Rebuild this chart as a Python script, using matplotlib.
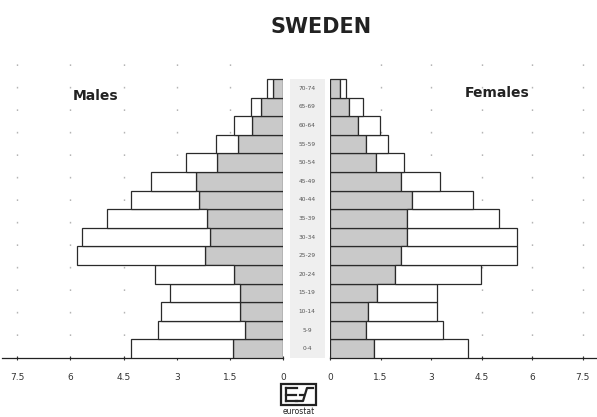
import matplotlib
matplotlib.use("Agg")
import matplotlib.pyplot as plt
from matplotlib.patches import Rectangle
from matplotlib.lines import Line2D

ages = ["0-4", "5-9", "10-14", "15-19", "20-24", "25-29", "30-34", "35-39",
        "40-44", "45-49", "50-54", "55-59", "60-64", "65-69", "70-74"]
male_total = [4.30, 3.53, 3.43, 3.20, 3.60, 5.82, 5.66, 4.96, 4.29, 3.73,
              2.73, 1.88, 1.38, 0.90, 0.45]
male_inner = [1.41, 1.08, 1.21, 1.21, 1.39, 2.20, 2.05, 2.15, 2.36, 2.45,
              1.85, 1.28, 0.88, 0.61, 0.28]
female_total = [4.10, 3.36, 3.18, 3.16, 4.47, 5.55, 5.55, 5.00, 4.24, 3.26,
                2.20, 1.73, 1.48, 0.99, 0.47]
female_inner = [1.30, 1.07, 1.14, 1.38, 1.92, 2.12, 2.27, 2.27, 2.42, 2.12,
                1.36, 1.07, 0.84, 0.57, 0.30]
tick_vals = [0, 1.5, 3, 4.5, 6, 7.5]
tick_labels = ["0", "1.5", "3", "4.5", "6", "7.5"]

W, H = 597, 417
fig = plt.figure(figsize=(W / 100, H / 100), dpi=100)
fig.patch.set_facecolor("white")

bottom = (H - 358) / H
height = (358 - 60) / H
ax_m = fig.add_axes([2 / W, bottom, (283 - 2) / W, height])
ax_f = fig.add_axes([330 / W, bottom, (597 - 330) / W, height])

y = list(range(len(ages)))
grey = "#c9c9c9"
edge = "#2a2a2a"

for ax, tot, inn in ((ax_m, male_total, male_inner), (ax_f, female_total, female_inner)):
    ax.set_facecolor("none")
    widths = [t - i for t, i in zip(tot, inn)]
    ax.barh(y, inn, height=1.0, color=grey, edgecolor=edge, linewidth=0.9, zorder=3)
    ax.barh(y, widths, left=inn, height=1.0, color="white", edgecolor=edge,
            linewidth=0.9, zorder=3)
    ax.set_ylim(-0.5, 15.52)
    ax.set_xticks(tick_vals)
    ax.set_xticklabels(tick_labels, fontsize=6.5, color="#333333")
    ax.tick_params(axis="x", direction="inout", length=3, width=0.8, pad=9,
                   colors="#333333")
    ax.tick_params(axis="x", labelcolor="#333333")
    ax.set_yticks([])
    for s in ("top", "left", "right"):
        ax.spines[s].set_visible(False)
    ax.spines["bottom"].set_color("#222222")
    ax.spines["bottom"].set_linewidth(0.9)
    for v in tick_vals[1:]:
        ax.axvline(v, color="#b5b5b5", linestyle=(0, (1.2, 15)), linewidth=1.0, zorder=1)

ax_m.set_xlim(7.93, 0)
ax_f.set_xlim(0, 7.92)

# center age-label strip
fig.patches.append(Rectangle((290 / W, bottom), 35 / W, (358 - 79) / H,
                             transform=fig.transFigure, facecolor="#efefef",
                             edgecolor="none", zorder=0))
row_h = (358 - 79) / 15
for i, a in enumerate(ages):
    yc = 358 - (i + 0.5) * row_h
    fig.text(307 / W, 1 - yc / H, a, fontsize=4.2, color="#555555",
             ha="center", va="center")

fig.text(321 / W, 1 - 27 / H, "SWEDEN", fontsize=15, fontweight="bold",
         color="#222222", ha="center", va="center")
fig.text(96 / W, 1 - 96 / H, "Males", fontsize=10, fontweight="bold",
         color="#222222", ha="center", va="center")
fig.text(497 / W, 1 - 93 / H, "Females", fontsize=10, fontweight="bold",
         color="#222222", ha="center", va="center")

# eurostat logo
def px(xp, yp):
    return xp / W, 1 - yp / H

x0, x1, y0, y1 = 281, 316, 384, 405
fig.patches.append(Rectangle(px(x0, y1), (x1 - x0) / W, (y1 - y0) / H,
                             transform=fig.transFigure, facecolor="white",
                             edgecolor="#222222", linewidth=1.6))
segs = [
    [(286, 388), (286, 401)], [(286, 388), (297, 388)],
    [(286, 394.5), (296, 394.5)], [(286, 401), (297, 401)],
    [(296, 401), (303, 401), (307, 388), (313, 388)],
    [(300, 394.5), (304, 394.5)],
]
for seg in segs:
    xs = [p[0] / W for p in seg]
    ys = [1 - p[1] / H for p in seg]
    fig.lines.append(Line2D(xs, ys, transform=fig.transFigure, color="#222222",
                            linewidth=1.6))
fig.text(298.5 / W, 1 - 411 / H, "eurostat", fontsize=5.5, color="#222222",
         ha="center", va="center")

fig.savefig("out.png", dpi=100, facecolor="white")
